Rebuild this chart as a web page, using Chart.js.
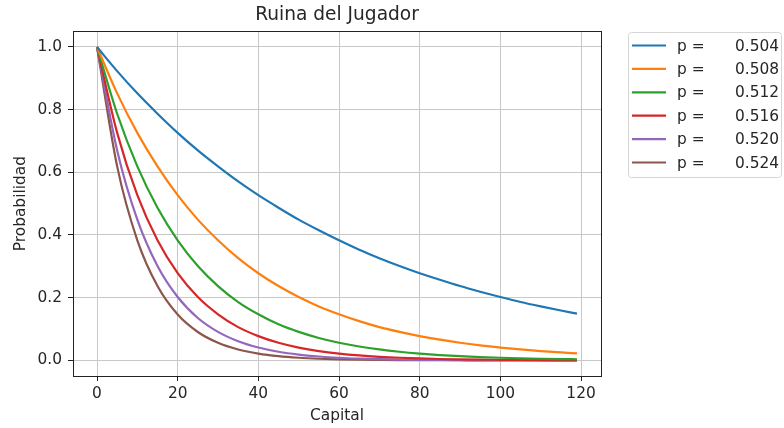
<!DOCTYPE html>
<html>
<head>
<meta charset="utf-8">
<title>Ruina del Jugador</title>
<script src="https://cdn.jsdelivr.net/npm/chart.js@4/dist/chart.umd.min.js"></script>
<style>
  html, body { margin: 0; padding: 0; background: #fff; }
  canvas { display: block; }
</style>
</head>
<body>
<canvas id="ruinChart" width="784" height="428"></canvas>
<script>
// Capital values sampled along the x axis
const capital = [0, 5, 10, 15, 20, 25, 30, 35, 40, 45, 50, 55, 60, 65, 70, 75, 80, 85, 90, 95, 100, 105, 110, 115, 119];

// Ruin probability for each p
const pValues = ['0.504', '0.508', '0.512', '0.516', '0.520', '0.524'];
const ruin504 = [1, 0.923, 0.852, 0.787, 0.726, 0.670, 0.619, 0.571, 0.527, 0.487, 0.449, 0.415, 0.383, 0.353, 0.326, 0.301, 0.278, 0.257, 0.237, 0.219, 0.202, 0.186, 0.172, 0.159, 0.149];
const ruin508 = [1, 0.852, 0.726, 0.619, 0.527, 0.449, 0.383, 0.326, 0.278, 0.237, 0.202, 0.172, 0.147, 0.125, 0.106, 0.0907, 0.0773, 0.0659, 0.0561, 0.0478, 0.0408, 0.0347, 0.0296, 0.0252, 0.0222];
const ruin512 = [1, 0.787, 0.619, 0.487, 0.383, 0.301, 0.237, 0.186, 0.147, 0.115, 0.0907, 0.0714, 0.0561, 0.0442, 0.0347, 0.0273, 0.0215, 0.0169, 0.0133, 0.0105, 0.0082, 0.0065, 0.0051, 0.0040, 0.0033];
const ruin516 = [1, 0.726, 0.527, 0.383, 0.278, 0.202, 0.147, 0.106, 0.0773, 0.0561, 0.0408, 0.0296, 0.0215, 0.0156, 0.0113, 0.0082, 0.0060, 0.0043, 0.0032, 0.0023, 0.0017, 0.0012, 0.0009, 0.0006, 0.0005];
const ruin520 = [1, 0.670, 0.449, 0.301, 0.202, 0.135, 0.0907, 0.0608, 0.0408, 0.0273, 0.0183, 0.0123, 0.0082, 0.0055, 0.0037, 0.0025, 0.0017, 0.0011, 0.0007, 0.0005, 0.0003, 0.0002, 0.0002, 0.0001, 0.0001];
const ruin524 = [1, 0.619, 0.383, 0.237, 0.146, 0.0905, 0.0560, 0.0346, 0.0214, 0.0132, 0.0082, 0.0051, 0.0031, 0.0019, 0.0012, 0.0007, 0.0005, 0.0003, 0.0002, 0.0001, 0.0001, 0.0001, 0, 0, 0];

// Axis ticks
const xTicks = [0, 20, 40, 60, 80, 100, 120];
const yTicks = [0, 0.2, 0.4, 0.6, 0.8, 1.0];

const seriesList = [ruin504, ruin508, ruin512, ruin516, ruin520, ruin524];
const colors = ['#1f77b4', '#ff7f0e', '#2ca02c', '#d62728', '#9467bd', '#8c564b'];

const FONT = 'DejaVu Sans';
const TEXT = '#262626';
const LABEL_SIZE = 15.4;

// Legend drawn outside the axes, top right
const sideLegend = {
    id: 'sideLegend',
    afterDraw(chart) {
        const ctx = chart.ctx;
        const left = 628.5, top = 32.5, width = 153, height = 145;
        ctx.save();
        ctx.beginPath();
        ctx.roundRect(left, top, width, height, 3);
        ctx.fillStyle = 'rgba(255,255,255,0.8)';
        ctx.fill();
        ctx.strokeStyle = '#d6d6d6';
        ctx.lineWidth = 1;
        ctx.stroke();

        ctx.font = LABEL_SIZE + 'px "' + FONT + '"';
        ctx.textBaseline = 'middle';
        chart.data.datasets.forEach((ds, i) => {
            const y = 45.5 + i * 23.4;
            ctx.strokeStyle = ds.borderColor;
            ctx.lineWidth = 2.2;
            ctx.beginPath();
            ctx.moveTo(632, y);
            ctx.lineTo(666, y);
            ctx.stroke();
            ctx.fillStyle = TEXT;
            ctx.fillText('p =', 677, y + 1);
            ctx.fillText(pValues[i], 735, y + 1);
        });
        ctx.restore();
    }
};

// Black frame around the plot area (top and right spines)
const frame = {
    id: 'frame',
    afterDraw(chart) {
        const a = chart.chartArea;
        const ctx = chart.ctx;
        ctx.save();
        ctx.strokeStyle = '#222';
        ctx.lineWidth = 1;
        ctx.strokeRect(Math.round(a.left) + 0.5, Math.round(a.top) + 0.5,
            Math.round(a.right - a.left), Math.round(a.bottom - a.top));
        ctx.restore();
    }
};

const datasets = seriesList.map((values, i) => ({
    label: 'p = ' + pValues[i],
    data: values.map((v, j) => ({ x: capital[j], y: v })),
    borderColor: colors[i],
    backgroundColor: colors[i],
    borderWidth: 2.2,
    pointRadius: 0,
    cubicInterpolationMode: 'monotone',
    fill: false
}));

new Chart(document.getElementById('ruinChart'), {
    type: 'line',
    data: { datasets: datasets },
    options: {
        responsive: false,
        animation: false,
        devicePixelRatio: 1,
        layout: { padding: { left: 0, right: 183, top: 0, bottom: 0 } },
        plugins: {
            legend: { display: false },
            tooltip: { enabled: false },
            title: {
                display: true,
                text: 'Ruina del Jugador',
                fullSize: false,
                color: TEXT,
                font: { family: FONT, size: 18.6, weight: 'normal' },
                padding: { top: 4, bottom: 5 }
            }
        },
        scales: {
            x: {
                type: 'linear',
                min: -5.95,
                max: 124.95,
                afterBuildTicks: axis => { axis.ticks = xTicks.map(v => ({ value: v })); },
                afterFit: axis => { axis.height = 52; },
                ticks: {
                    color: TEXT,
                    font: { family: FONT, size: LABEL_SIZE },
                    padding: 4,
                    maxRotation: 0,
                    callback: v => String(v)
                },
                grid: { color: '#c8c8c8', lineWidth: 1, tickLength: 5, tickColor: '#222' },
                border: { display: true, color: '#222', width: 1 },
                title: {
                    display: true,
                    text: 'Capital',
                    color: TEXT,
                    font: { family: FONT, size: LABEL_SIZE },
                    padding: { top: 2, bottom: 2.5 }
                }
            },
            y: {
                type: 'linear',
                min: -0.05,
                max: 1.05,
                afterBuildTicks: axis => { axis.ticks = yTicks.map(v => ({ value: v })); },
                afterFit: axis => { axis.width = 73; },
                ticks: {
                    color: TEXT,
                    font: { family: FONT, size: LABEL_SIZE },
                    padding: 6,
                    callback: v => v.toFixed(1)
                },
                grid: { color: '#c8c8c8', lineWidth: 1, tickLength: 5, tickColor: '#222' },
                border: { display: true, color: '#222', width: 1 },
                title: {
                    display: true,
                    text: 'Probabilidad',
                    color: TEXT,
                    font: { family: FONT, size: LABEL_SIZE },
                    padding: { top: 12, bottom: 4 }
                }
            }
        }
    },
    plugins: [frame, sideLegend]
});
</script>
</body>
</html>
